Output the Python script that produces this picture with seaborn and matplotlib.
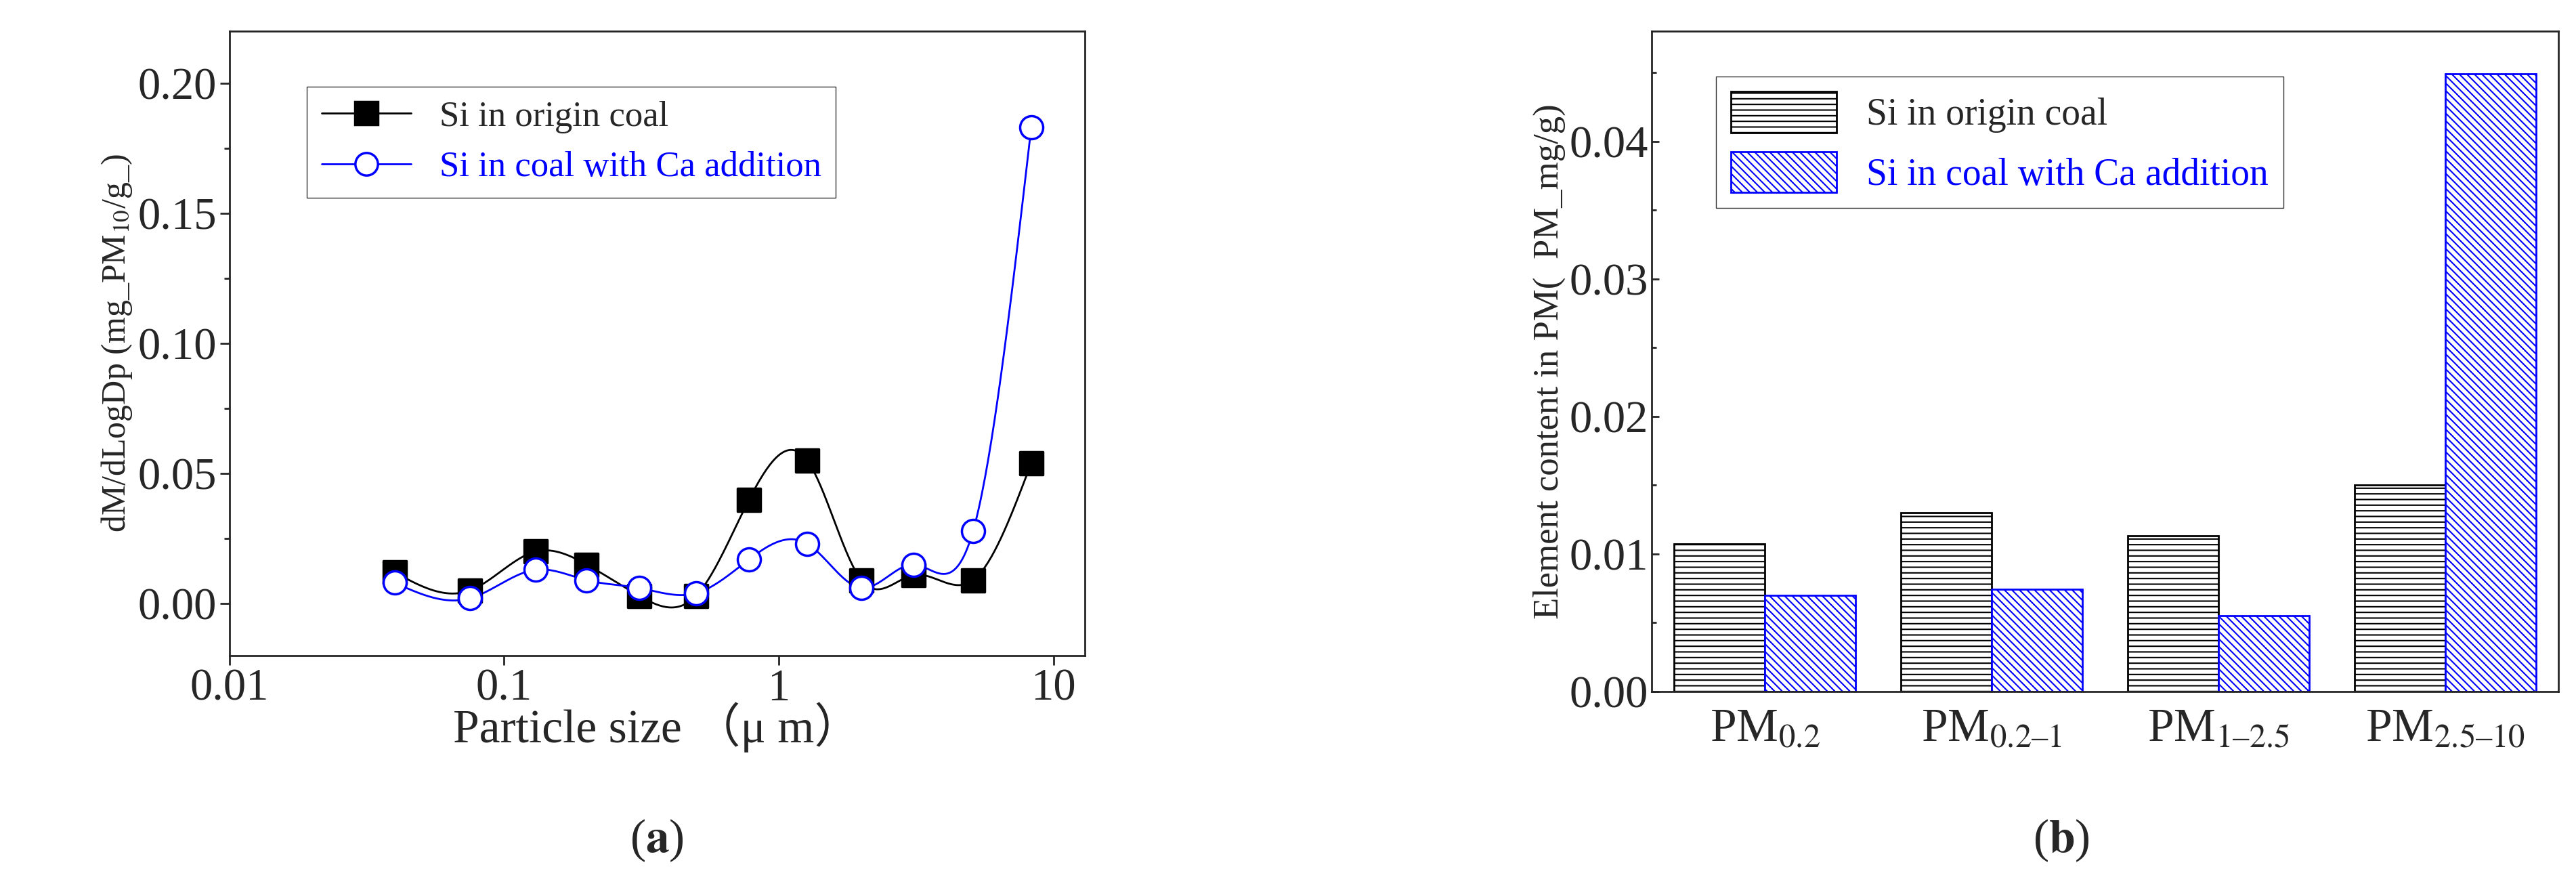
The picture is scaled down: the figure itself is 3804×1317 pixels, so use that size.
import numpy as np
import pandas as pd
import matplotlib
matplotlib.use("Agg")
import matplotlib.pyplot as plt
import seaborn as sns

sns.set_style("ticks")
plt.rcParams['font.family'] = ['Liberation Serif', 'Noto Sans CJK SC', 'DejaVu Serif']
plt.rcParams['mathtext.fontset'] = 'stix'

# --- data (a) ---
sizes = [0.04, 0.075, 0.13, 0.2, 0.31, 0.5, 0.78, 1.27, 2.0, 3.1, 5.1, 8.3]
si_origin = [0.012, 0.005, 0.020, 0.015, 0.003, 0.003, 0.040, 0.055, 0.009, 0.011, 0.009, 0.054]
si_ca = [0.008, 0.002, 0.013, 0.009, 0.006, 0.004, 0.017, 0.023, 0.006, 0.015, 0.028, 0.183]

# --- data (b) ---
pm_labels = ["PM$_{0.2}$", "PM$_{0.2\u20131}$", "PM$_{1\u20132.5}$", "PM$_{2.5\u201310}$"]
bar_origin = [0.0107, 0.0130, 0.0113, 0.0150]
bar_ca = [0.0070, 0.0074, 0.0055, 0.0449]


def natural_spline(x, y, n=400):
    # natural cubic spline, only used to draw the smooth line
    x = np.asarray(x, float); y = np.asarray(y, float)
    h = np.diff(x)
    N = len(x)
    A = np.zeros((N, N)); r = np.zeros(N)
    A[0, 0] = A[-1, -1] = 1
    for i in range(1, N - 1):
        A[i, i - 1] = h[i - 1]; A[i, i] = 2 * (h[i - 1] + h[i]); A[i, i + 1] = h[i]
        r[i] = 3 * ((y[i + 1] - y[i]) / h[i] - (y[i] - y[i - 1]) / h[i - 1])
    c = np.linalg.solve(A, r)
    xs = np.linspace(x[0], x[-1], n)
    idx = np.clip(np.searchsorted(x, xs) - 1, 0, N - 2)
    dx = xs - x[idx]
    b = (y[1:] - y[:-1]) / h - h * (2 * c[:-1] + c[1:]) / 3
    d = (c[1:] - c[:-1]) / (3 * h)
    ys = y[idx] + b[idx] * dx + c[idx] * dx ** 2 + d[idx] * dx ** 3
    return xs, ys


fig = plt.figure(figsize=(38.05, 13.17), dpi=100)
ax1 = fig.add_axes([0.089, 0.265, 0.332, 0.70])
ax2 = fig.add_axes([0.641, 0.225, 0.352, 0.74])

lx = np.log10(sizes)
for vals, col, mk, fc, lab in [(si_origin, 'black', 's', 'black', 'Si in origin coal'),
                               (si_ca, 'blue', 'o', 'white', 'Si in coal with Ca addition')]:
    xs, ys = natural_spline(lx, vals)
    sns.lineplot(x=10 ** xs, y=ys, ax=ax1, color=col, lw=2, sort=False)
    sns.scatterplot(x=sizes, y=vals, ax=ax1, marker=mk, s=600, color=fc, edgecolor=col,
                    linewidth=2.5, zorder=3)
    ax1.plot([], [], color=col, marker=mk, mfc=fc, mec=col, ms=24, mew=2.5, lw=2, label=lab)

ax1.set_xscale('log')
ax1.set_xlim(0.01, 13)
ax1.set_ylim(-0.02, 0.22)
ax1.set_yticks([0, 0.05, 0.10, 0.15, 0.20])
ax1.set_yticks([0.025, 0.075, 0.125, 0.175], minor=True)
ax1.set_xticks([0.01, 0.1, 1, 10])
ax1.set_xticklabels(['0.01', '0.1', '1', '10'])
ax1.xaxis.set_minor_locator(matplotlib.ticker.NullLocator())
ax1.yaxis.set_major_formatter(matplotlib.ticker.FormatStrFormatter('%.2f'))
ax1.tick_params(labelsize=48, width=2, length=10, direction='out')
ax1.tick_params(which='minor', width=2, length=6)
ax1.set_xlabel('Particle size \uff08\u03bc m\uff09', fontsize=50, labelpad=-8)
ax1.set_ylabel('dM/dLogDp (mg_PM$_{10}$/g_)', fontsize=36)
leg = ax1.legend(loc='upper left', bbox_to_anchor=(0.07, 0.94), fontsize=38,
                 frameon=True, fancybox=False, edgecolor='black', handlelength=2.5)
leg.get_texts()[1].set_color('blue')
for s in ax1.spines.values():
    s.set_linewidth(2)

# --- (b) ---
df = pd.DataFrame({'cat': pm_labels * 2,
                   'val': bar_origin + bar_ca,
                   'series': ['Si in origin coal'] * 4 + ['Si in coal with Ca addition'] * 4})
plt.rcParams['hatch.linewidth'] = 1.5
sns.barplot(data=df, x='cat', y='val', hue='series', ax=ax2, width=0.8, gap=0,
            palette=['white', 'white'], saturation=1, legend=True)
edgecols = ['black', 'blue']
hatches = ['--', '\\\\\\']
for i, cont in enumerate(ax2.containers):
    for p in cont:
        p.set_edgecolor(edgecols[i]); p.set_hatch(hatches[i]); p.set_linewidth(2)
for i, p in enumerate(ax2.get_legend().get_patches()):
    p.set_edgecolor(edgecols[i]); p.set_hatch(hatches[i]); p.set_linewidth(2)
leg2 = ax2.legend(handles=ax2.get_legend().legend_handles, labels=['Si in origin coal', 'Si in coal with Ca addition'],
                  loc='upper left', bbox_to_anchor=(0.05, 0.96), fontsize=40, frameon=True,
                  fancybox=False, edgecolor='black', handlelength=2.8, handleheight=1.3)
leg2.get_texts()[1].set_color('blue')
ax2.set_xlim(-0.5, 3.5)
ax2.set_ylim(0, 0.048)
ax2.set_yticks([0, 0.01, 0.02, 0.03, 0.04])
ax2.set_yticks([0.005, 0.015, 0.025, 0.035, 0.045], minor=True)
ax2.yaxis.set_major_formatter(matplotlib.ticker.FormatStrFormatter('%.2f'))
ax2.tick_params(axis='y', labelsize=48, width=2, length=8, direction='in')
ax2.tick_params(axis='y', which='minor', width=2, length=5, direction='in')
ax2.tick_params(axis='x', labelsize=50, length=0, pad=18)
ax2.set_xlabel('')
ax2.set_ylabel('Element content in PM(  PM_mg/g)', fontsize=38)
for s in ax2.spines.values():
    s.set_linewidth(2)

fig.text(0.255, 0.045, '($\\mathbf{a}$)', fontsize=50, ha='center')
fig.text(0.80, 0.045, '($\\mathbf{b}$)', fontsize=50, ha='center')

fig.savefig('out.png', dpi=100)
